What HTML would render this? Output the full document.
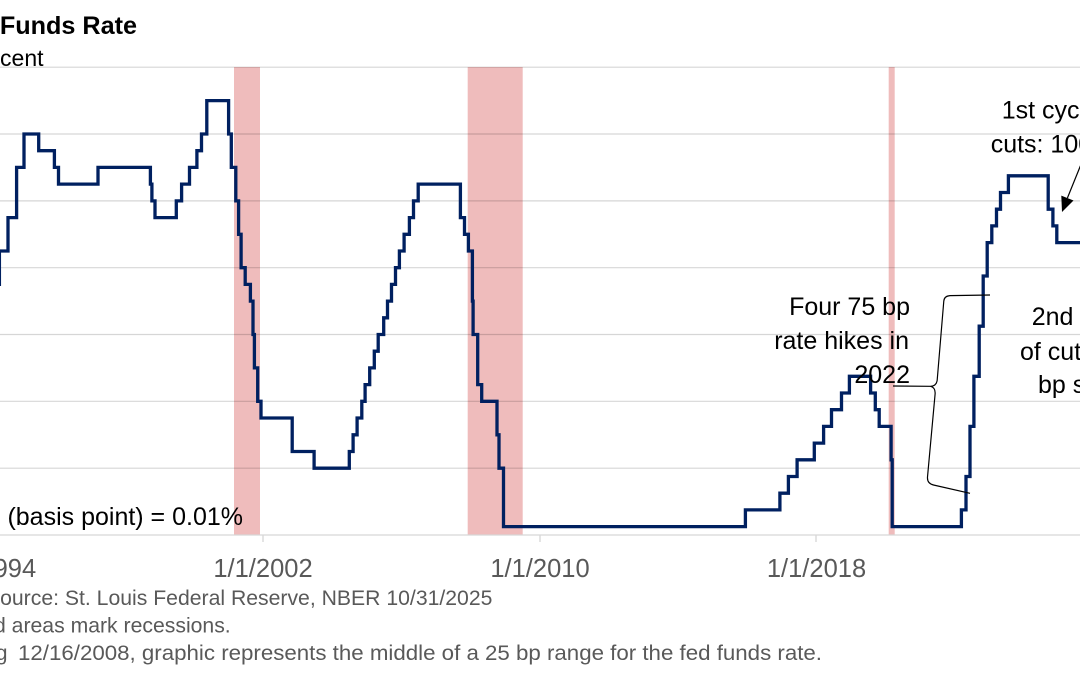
<!DOCTYPE html>
<html>
<head>
<meta charset="utf-8">
<style>
  html, body { margin: 0; padding: 0; background: #ffffff; }
  body { width: 1080px; height: 675px; overflow: hidden; }
  svg { display: block; }
  text { font-family: "Liberation Sans", Arial, sans-serif; }
</style>
</head>
<body>
<svg width="1080" height="675" viewBox="0 0 1080 675" xmlns="http://www.w3.org/2000/svg">
  <rect x="0" y="0" width="1080" height="675" fill="#ffffff"/>

  <!-- recession shading -->
  <g fill="#efbcbc">
    <rect x="234" y="67" width="26" height="468"/>
    <rect x="467.7" y="67" width="55" height="468"/>
    <rect x="888.7" y="67" width="6" height="468"/>
  </g>

  <!-- gridlines -->
  <g stroke="rgba(0,0,0,0.16)" stroke-width="1.2">
    <line x1="0" y1="67.2" x2="1080" y2="67.2"/>
    <line x1="0" y1="134.0" x2="1080" y2="134.0"/>
    <line x1="0" y1="200.9" x2="1080" y2="200.9"/>
    <line x1="0" y1="267.7" x2="1080" y2="267.7"/>
    <line x1="0" y1="334.5" x2="1080" y2="334.5"/>
    <line x1="0" y1="401.3" x2="1080" y2="401.3"/>
    <line x1="0" y1="468.2" x2="1080" y2="468.2"/>
  </g>
  <!-- axis -->
  <g stroke="#d6d6d6" stroke-width="1.3">
    <line x1="0" y1="535" x2="1080" y2="535"/>
    <line x1="263" y1="535" x2="263" y2="542"/>
    <line x1="540" y1="535" x2="540" y2="542"/>
    <line x1="816" y1="535" x2="816" y2="542"/>
  </g>

  <!-- fed funds series -->
  <path fill="none" stroke="#002060" stroke-width="3.3" stroke-linejoin="miter" stroke-linecap="butt"
    d="M -14 334.5 H -10.3 V 317.8 H -5.9 V 301.1 H -3.4 V 284.4 H -0.6 V 251.0 H 8.0 V 217.6 H 16.6 V 167.4
       H 24.0 V 134.0 H 38.7 V 150.7 H 54.4 V 167.4 H 58.5 V 184.1 H 98.0 V 167.4 H 150.4 V 184.1
       H 151.9 V 200.9 H 155.0 V 217.6 H 176.3 V 200.9 H 181.6 V 184.1 H 189.5 V 167.4 H 196.9 V 150.7
       H 201.5 V 134.0 H 206.8 V 100.6 H 228.6 V 134.0 H 231.3 V 167.4 H 235.8 V 200.9 H 238.6 V 234.3
       H 241.1 V 267.7 H 245.2 V 284.4 H 250.4 V 301.1 H 253.0 V 334.5 H 254.4 V 367.9 H 257.7 V 401.3
       H 261.0 V 418.0 H 292.2 V 451.5 H 314.1 V 468.2 H 349.3 V 451.5 H 353.1 V 434.8 H 357.1 V 418.0
       H 361.8 V 401.3 H 365.1 V 384.6 H 369.7 V 367.9 H 374.3 V 351.2 H 378.2 V 334.5 H 383.7 V 317.8
       H 387.5 V 301.1 H 391.5 V 284.4 H 395.5 V 267.7 H 399.4 V 251.0 H 404.1 V 234.3 H 409.4 V 217.6
       H 413.5 V 200.9 H 418.2 V 184.1 H 460.4 V 217.6 H 464.5 V 234.3 H 468.4 V 251.0 H 472.4 V 301.1
       H 473.1 V 334.5 H 477.7 V 384.6 H 481.7 V 401.3 H 497.0 V 434.8 H 499.0 V 468.2 H 503.5 V 526.6
       H 745.4 V 509.9 H 779.9 V 493.2 H 788.4 V 476.5 H 797.1 V 459.8 H 814.3 V 443.1 H 823.6 V 426.4
       H 831.5 V 409.7 H 841.5 V 393.0 H 849.4 V 376.3 H 870.6 V 393.0 H 875.3 V 409.7 H 879.2 V 426.4
       H 891.1 V 459.8 H 892.2 V 526.6 H 961.4 V 509.9 H 966.0 V 476.5 H 970.0 V 426.4 H 973.9 V 376.3
       H 979.2 V 326.2 H 983.2 V 276.0 H 987.2 V 242.6 H 991.8 V 225.9 H 996.5 V 209.2 H 1000.5 V 192.5
       H 1008.4 V 175.8 H 1048.2 V 209.2 H 1052.9 V 225.9 H 1056.8 V 242.6 H 1095"/>

  <!-- title -->
  <text x="137" y="34" text-anchor="end" font-size="25.2" font-weight="bold" fill="#000">Federal Funds Rate</text>
  <text x="43.5" y="66" text-anchor="end" font-size="23" fill="#000">Percent</text>

  <!-- x axis labels -->
  <g font-size="25.5" fill="#595959" text-anchor="middle">
    <text x="-13.5" y="577">1/1/1994</text>
    <text x="263" y="577">1/1/2002</text>
    <text x="540" y="577">1/1/2010</text>
    <text x="816.5" y="577">1/1/2018</text>
  </g>

  <!-- bp note -->
  <text x="243" y="525" text-anchor="end" font-size="25" fill="#000">1 bp (basis point) = 0.01%</text>

  <!-- annotations -->
  <g font-size="25" fill="#000" text-anchor="end">
    <text x="910" y="315">Four 75 bp</text>
    <text x="909" y="349">rate hikes in</text>
    <text x="910" y="383">2022</text>
  </g>
  <g font-size="25" fill="#000">
    <text x="1001.7" y="118.3">1st cycle of</text>
    <text x="990.7" y="152.3">cuts: 100 bp</text>
    <text x="1031.7" y="325">2nd cycle</text>
    <text x="1020" y="360">of cuts: 50</text>
    <text x="1038" y="393">bp so far</text>
  </g>

  <!-- brace -->
  <path fill="none" stroke="#000" stroke-width="1.2"
    d="M 990 295 L 950 295.6 Q 944.3 296 943.8 301 L 937.2 380 Q 936.6 386 930.5 386.3 L 893 386
       M 930.5 386.3 Q 935.6 387.5 935.1 394 L 927.5 477 Q 927 483.5 933.5 485 L 970 493.3"/>

  <!-- arrow -->
  <line x1="1086" y1="152" x2="1067.4" y2="198" stroke="#000" stroke-width="1.2"/>
  <polygon points="1062,212 1073.5,200.5 1061.3,195.6" fill="#000"/>

  <!-- footnotes -->
  <g fill="#595959">
    <text x="492.4" y="605" font-size="21.2" text-anchor="end">Source: St. Louis Federal Reserve, NBER 10/31/2025</text>
    <text x="230.7" y="632.7" font-size="21.2" text-anchor="end">Note: Shaded areas mark recessions.</text>
    <text x="7.5" y="660" font-size="21.4" text-anchor="end">Beginning</text>
    <text x="18" y="660" font-size="21.4" textLength="804" lengthAdjust="spacingAndGlyphs">12/16/2008, graphic represents the middle of a 25 bp range for the fed funds rate.</text>
  </g>
</svg>
</body>
</html>
